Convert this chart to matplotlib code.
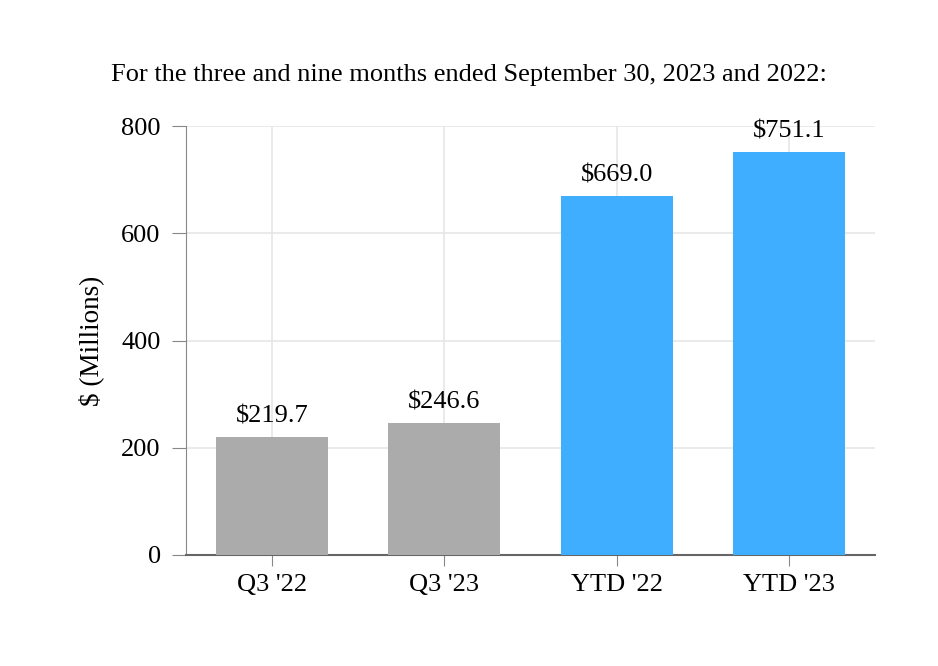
import matplotlib.pyplot as plt

categories = ["Q3 '22", "Q3 '23", "YTD '22", "YTD '23"]
values = [219.7, 246.6, 669.0, 751.1]
value_labels = ["$219.7", "$246.6", "$669.0", "$751.1"]
colors = ["#ababab", "#ababab", "#40aeff", "#40aeff"]
yticks = [0, 200, 400, 600, 800]

plt.rcParams['font.family'] = ['Liberation Serif', 'DejaVu Serif']

fig = plt.figure(figsize=(9.38, 6.66), dpi=100)
ax = fig.add_axes([0.198, 0.1667, 0.735, 0.644])

x = range(len(categories))
ax.bar(x, values, width=0.65, color=colors, zorder=3)
for i, v in enumerate(values):
    ax.annotate(value_labels[i], (i, v), xytext=(0, 7), textcoords="offset points",
                ha="center", va="bottom", fontsize=19)

ax.set_xlim(-0.5, 3.5)
ax.set_ylim(0, 800)
ax.set_xticks(list(x))
ax.set_xticklabels(categories, fontsize=19)
ax.set_yticks(yticks)
ax.set_yticklabels([str(t) for t in yticks], fontsize=19)
ax.grid(True, color="#e6e6e6", linewidth=1.2, zorder=0)
ax.set_axisbelow(True)

for s in ["top", "right"]:
    ax.spines[s].set_visible(False)
ax.spines["left"].set_color("#888888")
ax.spines["bottom"].set_color("#666666")
ax.spines["bottom"].set_linewidth(1.5)
ax.tick_params(axis="y", colors="#888888", length=10, labelcolor="black", pad=8)
ax.tick_params(axis="x", colors="#888888", length=8, labelcolor="black", pad=6)

ax.set_ylabel("$ (Millions)", fontsize=19.5, labelpad=12)
fig.text(0.5, 0.888, "For the three and nine months ended September 30, 2023 and 2022:",
         ha="center", va="center", fontsize=19)

fig.savefig("out.png", dpi=100)
